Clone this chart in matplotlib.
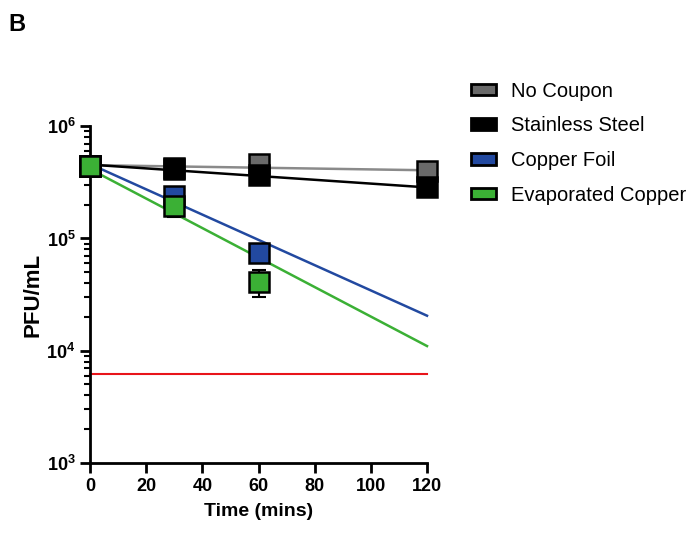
import numpy as np
import matplotlib.pyplot as plt
from matplotlib.patches import Patch
from matplotlib.ticker import LogLocator, FixedLocator

plt.rcParams['font.family'] = ['Liberation Sans', 'DejaVu Sans']

times = [0, 30, 60, 120]
series = ['No Coupon', 'Stainless Steel', 'Copper Foil', 'Evaporated Copper']
face_colors = ['#6a6a6a', '#000000', '#2249a0', '#3bb035']
line_colors = ['#8a8a8a', '#000000', '#2249a0', '#3bb035']

no_coupon = [4.4e5, 4.2e5, 4.6e5, 4.0e5]
stainless = [4.4e5, 4.15e5, 3.65e5, 2.9e5]
copper_foil = [4.4e5, 2.4e5, 7.4e4, None]
evap_copper = [4.4e5, 1.95e5, 4.1e4, None]

# asymmetric error (lower, upper)
no_coupon_err = [[0, 0, 0, 0], [0, 0, 0, 0]]
stainless_err = [[0, 0, 0, 0.5e5], [0, 0, 0, 0]]
copper_foil_err = [[0, 0, 0, 0], [0, 0, 0, 0]]
evap_copper_err = [[0, 0.4e5, 1.1e4, 0], [0, 0, 1.1e4, 0]]

# exponential fit values at t=0 and t=120
fit_t = [0, 120]
no_coupon_fit = [4.5e5, 4.05e5]
stainless_fit = [4.55e5, 2.85e5]
copper_foil_fit = [4.6e5, 2.05e4]
evap_copper_fit = [4.15e5, 1.1e4]

detection_limit = 6.25e3

values = [no_coupon, stainless, copper_foil, evap_copper]
errors = [no_coupon_err, stainless_err, copper_foil_err, evap_copper_err]
fits = [no_coupon_fit, stainless_fit, copper_foil_fit, evap_copper_fit]

fig = plt.figure(figsize=(6.94, 5.44), dpi=100)
ax = fig.add_axes([0.1297, 0.149, 0.4856, 0.619])

ax.plot([0, 120], [detection_limit, detection_limit], color='#e8141a', lw=1.5, zorder=1)

for i in range(len(series)):
    tf = np.linspace(fit_t[0], fit_t[1], 50)
    k = np.log(fits[i][1] / fits[i][0]) / (fit_t[1] - fit_t[0])
    ax.plot(tf, fits[i][0] * np.exp(k * tf), color=line_colors[i], lw=1.8, zorder=2)

for i in range(len(series)):
    t = [times[j] for j in range(4) if values[i][j] is not None]
    v = [values[i][j] for j in range(4) if values[i][j] is not None]
    lo = [errors[i][0][j] for j in range(4) if values[i][j] is not None]
    hi = [errors[i][1][j] for j in range(4) if values[i][j] is not None]
    ax.errorbar(t, v, yerr=[lo, hi], fmt='none', ecolor='black', elinewidth=1.5,
                capsize=5, capthick=1.5, zorder=3 + 2 * i)
    ax.plot(t, v, linestyle='none', marker='s', markersize=14, markerfacecolor=face_colors[i],
            markeredgecolor='black', markeredgewidth=1.8, zorder=4 + 2 * i)

ax.set_yscale('log')
ax.set_ylim(1e3, 1e6)
ax.set_xlim(0, 120)
ax.set_xticks([0, 20, 40, 60, 80, 100, 120])
ax.yaxis.set_major_locator(FixedLocator([1e3, 1e4, 1e5, 1e6]))
ax.yaxis.set_minor_locator(LogLocator(base=10, subs=np.arange(2, 10)))
ax.yaxis.set_minor_formatter(plt.NullFormatter())

for s in ['top', 'right']:
    ax.spines[s].set_visible(False)
for s in ['left', 'bottom']:
    ax.spines[s].set_linewidth(2)
ax.tick_params(axis='both', which='major', direction='out', length=7, width=2,
               labelsize=13)
ax.tick_params(axis='y', which='minor', direction='out', length=4, width=1.5)
for lab in ax.get_xticklabels() + ax.get_yticklabels():
    lab.set_fontweight('bold')
for ln in ax.lines:
    ln.set_clip_on(False)

ax.set_xlabel('Time (mins)', fontsize=14, fontweight='bold', labelpad=6)
ax.set_ylabel('PFU/mL', fontsize=16, fontweight='bold', labelpad=2)

handles = [Patch(facecolor=face_colors[i], edgecolor='black', linewidth=2) for i in range(4)]
fig.legend(handles, series, loc='upper left', bbox_to_anchor=(0.678, 0.85), frameon=False,
           borderaxespad=0, borderpad=0,
           fontsize=14.5, handlelength=1.25, handleheight=0.5, labelspacing=0.78,
           handletextpad=0.75)

fig.text(0.012, 0.955, 'B', fontsize=17, fontweight='bold', va='center')

fig.savefig('out.png', dpi=100)
